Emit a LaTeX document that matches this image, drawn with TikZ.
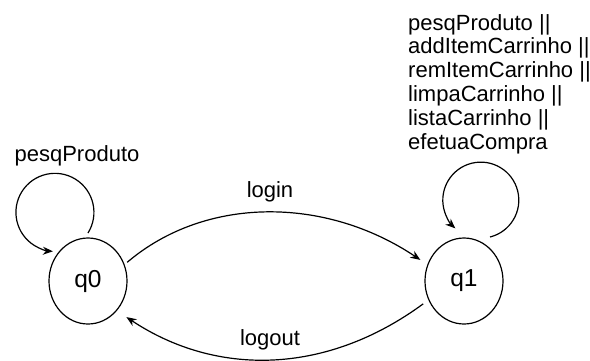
\documentclass[tikz,border=0pt]{standalone}
\usepackage{fontspec}
\setmainfont{Liberation Sans}
\usetikzlibrary{arrows.meta,shapes.geometric}
\begin{document}
\begin{tikzpicture}[x=1pt,y=-1pt,
  state/.style={draw,ellipse,minimum width=78pt,minimum height=86pt,inner sep=0pt,outer sep=0pt,line width=1.2pt,font=\fontsize{24.5}{26}\selectfont},
  edge/.style={line width=1.2pt,-{Stealth[length=10pt,width=8pt]}},
  lbl/.style={inner sep=0pt,font=\fontsize{22}{23.8}\selectfont}]
\useasboundingbox (0,0) rectangle (590,360);
\node[state] (q0) at (88,281) {q0};
\node[state] (q1) at (464,281) {q1};
\node[lbl,anchor=base] (l0) at (77,161) {pesqProduto};
\node[lbl,anchor=base] (lin) at (270,197) {login};
\node[lbl,anchor=base] (lout) at (270,345) {logout};
\node[lbl,anchor=north west,align=left] (l1) at (408,14) {pesqProduto ||\\addItemCarrinho ||\\remItemCarrinho ||\\limpaCarrinho ||\\listaCarrinho ||\\efetuaCompra};
\draw[edge] ([shift={(0pt,5pt)}]q0.north) arc[start angle=-32,end angle=267,radius=39pt];
\draw[edge] ([shift={(26pt,1pt)}]q1.north) arc[start angle=-76,end angle=228,radius=38pt];
\draw[edge,shorten <=4pt,shorten >=9pt] (q0.24) .. controls (205,196) and (325,196) .. (q1.156);
\draw[edge,shorten <=7pt,shorten >=12pt] (q1.208) .. controls (325,376) and (215,376) .. (q0.314);
\end{tikzpicture}
\end{document}
